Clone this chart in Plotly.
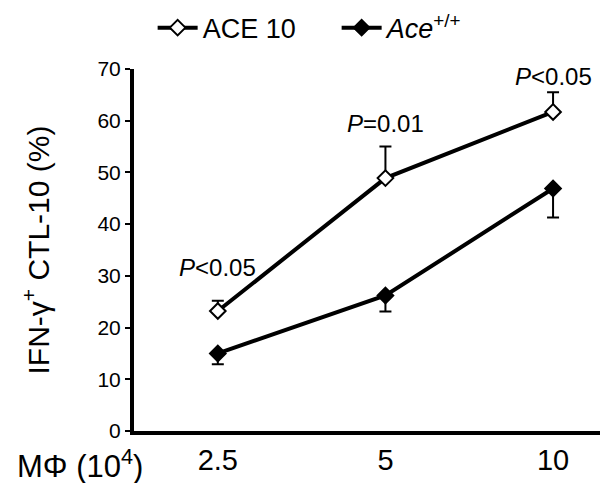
import plotly.graph_objects as go

# Macrophage numbers (x 10^4) used for stimulation
macrophages = ["2.5", "5", "10"]

# IFN-gamma+ CTL-10 (%) for each group, with SEM
ace10_mean = [23.2, 48.9, 61.7]
ace10_sem = [2.0, 6.1, 3.8]
wt_mean = [15.0, 26.2, 46.9]
wt_sem = [2.1, 3.1, 5.6]

# Significance labels above each macrophage number
p_labels = ["<i>P</i>&lt;0.05", "<i>P</i>=0.01", "<i>P</i>&lt;0.05"]
p_label_y = [31.7, 59.4, 68.5]

FONT = "Liberation Sans, Arial, sans-serif"
zeros = [0] * len(macrophages)

fig = go.Figure()

fig.add_trace(go.Scatter(
    x=macrophages, y=ace10_mean, name="ACE 10", mode="lines+markers",
    line=dict(color="black", width=4),
    marker=dict(symbol="diamond", size=12, color="white",
                line=dict(color="black", width=2)),
    error_y=dict(type="data", symmetric=False, array=ace10_sem,
                 arrayminus=zeros, color="black", thickness=2, width=6),
    cliponaxis=False,
))

fig.add_trace(go.Scatter(
    x=macrophages, y=wt_mean, name="<i>Ace</i><sup>+/+</sup>", mode="lines+markers",
    line=dict(color="black", width=4),
    marker=dict(symbol="diamond", size=12, color="black",
                line=dict(color="black", width=2)),
    error_y=dict(type="data", symmetric=False, array=zeros,
                 arrayminus=wt_sem, color="black", thickness=2, width=6),
    cliponaxis=False,
))

# Category axes place annotations by category index
for idx, (yv, txt) in enumerate(zip(p_label_y, p_labels)):
    fig.add_annotation(x=idx, y=yv, text=txt, showarrow=False,
                       font=dict(family=FONT, size=24, color="black"),
                       xanchor="center", yanchor="middle")

# Label for the x-axis, set to the left of the category labels
fig.add_annotation(xref="paper", yref="paper", x=0.024, y=-0.09,
                   text="MΦ (10<sup>4</sup>)", showarrow=False,
                   xanchor="right", yanchor="middle",
                   font=dict(family=FONT, size=31, color="black"))

fig.update_layout(
    width=600, height=483,
    margin=dict(l=134, r=0, t=69, b=52),
    paper_bgcolor="white", plot_bgcolor="white",
    font=dict(family=FONT, color="black"),
    showlegend=True,
    legend=dict(orientation="h", x=0.04, xanchor="left", y=1.113,
                yanchor="middle", font=dict(family=FONT, size=27),
                bgcolor="rgba(0,0,0,0)", itemwidth=40,
                entrywidth=129, entrywidthmode="pixels"),
    xaxis=dict(type="category", range=[-0.5, 2.28], showgrid=False,
               zeroline=False, showline=True, linecolor="black", linewidth=4,
               ticks="", tickfont=dict(family=FONT, size=29, color="black")),
    yaxis=dict(range=[0, 70], tickvals=list(range(0, 71, 10)), showgrid=False,
               zeroline=False, showline=True, linecolor="black", linewidth=4,
               ticks="outside", ticklen=5, tickwidth=2, tickcolor="black",
               tickfont=dict(family=FONT, size=21, color="black"),
               title=dict(text="IFN-γ<sup>+</sup> CTL-10 (%)", standoff=40,
                          font=dict(family=FONT, size=30, color="black"))),
)

fig.write_html("out.html")
